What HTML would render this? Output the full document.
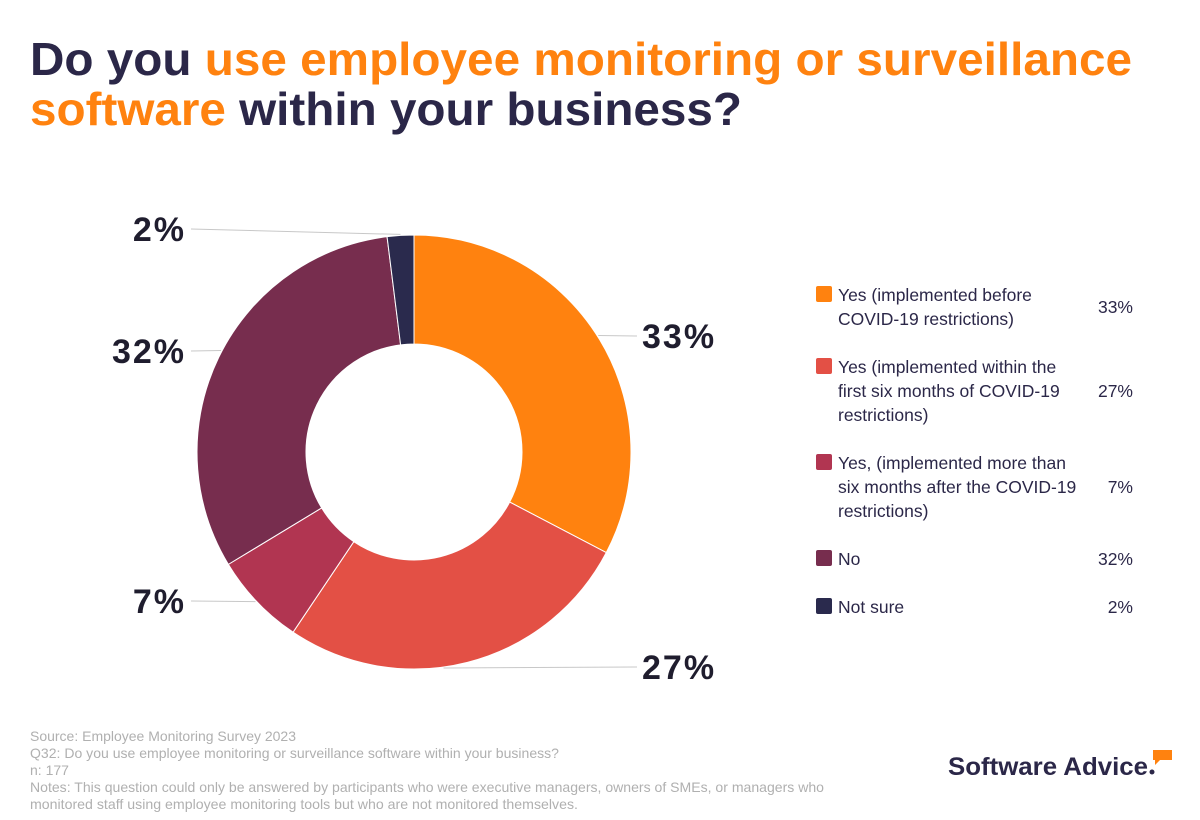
<!DOCTYPE html>
<html><head><meta charset="utf-8"><style>
body{margin:0;background:#fff;font-family:"Liberation Sans",sans-serif}
svg{display:block}
</style></head><body>
<svg width="1200" height="820" viewBox="0 0 1200 820">
<g font-weight="bold" font-size="46">
<text x="30" y="75" textLength="1102" lengthAdjust="spacingAndGlyphs"><tspan fill="#2b2748">Do you </tspan><tspan fill="#ff820f">use employee monitoring or surveillance</tspan></text>
<text x="30" y="125" textLength="712" lengthAdjust="spacingAndGlyphs"><tspan fill="#ff820f">software </tspan><tspan fill="#2b2748">within your business?</tspan></text>
</g>
<g id="donut"></g>
<g id="legend"></g>
<g fill="#b0b0b0" font-size="14">
<text x="30" y="741" textLength="266" lengthAdjust="spacingAndGlyphs">Source: Employee Monitoring Survey 2023</text>
<text x="30" y="758" textLength="529" lengthAdjust="spacingAndGlyphs">Q32: Do you use employee monitoring or surveillance software within your business?</text>
<text x="30" y="775">n: 177</text>
<text x="30" y="792" textLength="794" lengthAdjust="spacingAndGlyphs">Notes: This question could only be answered by participants who were executive managers, owners of SMEs, or managers who</text>
<text x="30" y="809" textLength="548" lengthAdjust="spacingAndGlyphs">monitored staff using employee monitoring tools but who are not monitored themselves.</text>
</g>
<g>
<text x="948" y="775" font-size="25" font-weight="bold" fill="#2b2748" textLength="200" lengthAdjust="spacingAndGlyphs">Software Advice</text>
<circle cx="1152" cy="772" r="2.5" fill="#2b2748"/>
<path d="M1153 750h19v10h-12l-5 5v-5h-2z" fill="#ff820f"/>
</g>
</svg>
<script>
const categories=["Yes (implemented before COVID-19 restrictions)","Yes (implemented within the first six months of COVID-19 restrictions)","Yes, (implemented more than six months after the COVID-19 restrictions)","No","Not sure"];
const values=[33,27,7,32,2];
const valueLabels=["33%","27%","7%","32%","2%"];
const legendLines=[["Yes (implemented before","COVID-19 restrictions)"],["Yes (implemented within the","first six months of COVID-19","restrictions)"],["Yes, (implemented more than","six months after the COVID-19","restrictions)"],["No"],["Not sure"]];
const colors=["#ff820f","#e35045","#b13551","#772d4e","#2a2a4d"];
const labelYs=[336,667,601,351,229];
const NS="http://www.w3.org/2000/svg";
const cx=414,cy=452,R=217,r=108;
const total=values.reduce((a,b)=>a+b,0);
function pt(a,rad){return [cx+rad*Math.sin(a),cy-rad*Math.cos(a)];}
const g=document.getElementById('donut');
let start=0;
values.forEach((v,i)=>{
  const end=start+v/total*2*Math.PI;
  const [x1,y1]=pt(start,R),[x2,y2]=pt(end,R),[x3,y3]=pt(end,r),[x4,y4]=pt(start,r);
  const lg=end-start>Math.PI?1:0;
  const p=document.createElementNS(NS,'path');
  p.setAttribute('d',`M${x1} ${y1}A${R} ${R} 0 ${lg} 1 ${x2} ${y2}L${x3} ${y3}A${r} ${r} 0 ${lg} 0 ${x4} ${y4}Z`);
  p.setAttribute('fill',colors[i]);p.setAttribute('stroke','#fff');p.setAttribute('stroke-width','1');
  
  
  g.appendChild(p);
  const mid=(start+end)/2;
  const right=Math.sin(mid)>0;
  const ly=labelYs[i];
  const lx=right?637:191;
  // leader starts on outer arc where it meets label's height, clamped within slice
  let a=mid;
  const dy=(cy-ly)/R;
  if(Math.abs(dy)<=1){
    let cand=right?Math.acos(dy):2*Math.PI-Math.acos(dy);
    if(cand>start&&cand<end) a=cand;
  }
  const [ex,ey]=pt(a,R+1);
  const ln=document.createElementNS(NS,'line');
  ln.setAttribute('x1',ex);ln.setAttribute('y1',ey);ln.setAttribute('x2',lx);ln.setAttribute('y2',ly);
  ln.setAttribute('stroke','#c8c8c8');ln.setAttribute('stroke-width','1');
  
  
  g.appendChild(ln);
  const t=document.createElementNS(NS,'text');
  t.setAttribute('x',right?642:186);t.setAttribute('y',ly+12);
  t.setAttribute('text-anchor',right?'start':'end');
  t.setAttribute('font-size','34');t.setAttribute('font-weight','bold');t.setAttribute('fill','#1f1d2e');
  t.setAttribute('letter-spacing','2');
  t.textContent=valueLabels[i];
  
  
  g.appendChild(t);
  start=end;
});
const lgG=document.getElementById('legend');
const tops=[286,358,454,550,598];
legendLines.forEach((lines,i)=>{
  const e=document.createElementNS(NS,'g');
  
  
  const s=document.createElementNS(NS,'rect');
  s.setAttribute('x',816);s.setAttribute('y',tops[i]);s.setAttribute('width',16);s.setAttribute('height',16);s.setAttribute('rx',2);
  s.setAttribute('fill',colors[i]);
  e.appendChild(s);
  lines.forEach((L,j)=>{
    const t=document.createElementNS(NS,'text');
    t.setAttribute('x',838);t.setAttribute('y',tops[i]+15+j*24);
    t.setAttribute('font-size','17.5');t.setAttribute('fill','#2b2748');
    t.textContent=L;e.appendChild(t);
  });
  const pv=document.createElementNS(NS,'text');
  pv.setAttribute('x',1133);pv.setAttribute('y',tops[i]+15+(lines.length-1)*12);
  pv.setAttribute('text-anchor','end');pv.setAttribute('font-size','17.5');pv.setAttribute('fill','#2b2748');
  pv.textContent=valueLabels[i];e.appendChild(pv);
  lgG.appendChild(e);
});
</script>
</body></html>
